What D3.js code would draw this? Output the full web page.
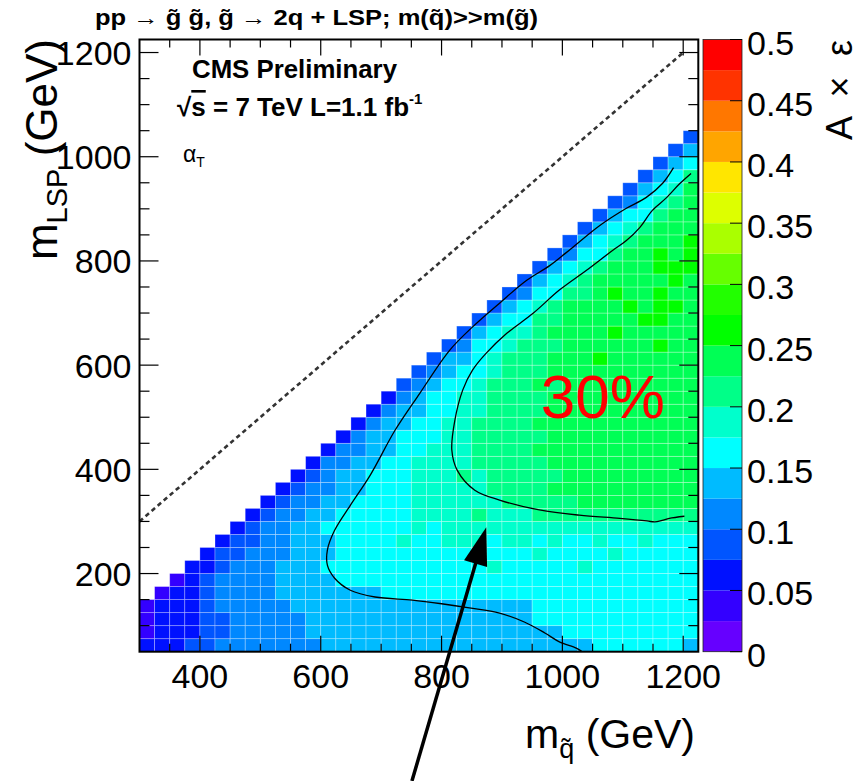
<!DOCTYPE html>
<html><head><meta charset="utf-8">
<script src="https://cdn.jsdelivr.net/npm/d3@7"></script>
<style>
body{margin:0;background:#fff}
svg{display:block}
text{font-family:"Liberation Sans",Arial,Helvetica,sans-serif;fill:#000}
</style>
</head><body>
<svg id="chart" width="862" height="781"></svg>
<script>
// ---------------- DATA ----------------
// Grid: m_gluino from 300 (25 GeV bins), m_LSP from 50 (25 GeV bins)
const gluinoStart = 300, lspStart = 50, binSize = 25;
// Each row j (m_LSP = 50+25j) lists A×ε bins (0..19, 'a'=10, 'b'=11) starting at column max(0, j-3)
// bin k covers [0.025k, 0.025(k+1)]
const effRows = [
  "2223344444445555555555555555556666665",   // j=0
  "1222334444455555555555555555666666666",
  "1222334444455555555555555566666666666",
  "1222344444555555555555555566666666666",
  "122344445555555666666666666666666666",
  "12344445555666666666666666666666666",
  "2234445556666666666676666676666666",
  "233444555666666666766676666766666",
  "23344555666676677767767667667666",
  "2344556666667677777777777777777",       // j=9
  "234455666667777877788888888888",
  "23445566667777778888899999999",
  "2344556667777788889999999999",
  "234556667778788888999999999",
  "24455667777888889999999999",
  "2445566777888899999999999",
  "245566677888889999999999",
  "24556677888899999999999",
  "2455667788889999999999",
  "245667788889999999999",                 // j=19
  "34566788898999999999",
  "3456678889999999999",
  "35567888999a999999",
  "34667888999999a99",
  "3567789999a99999",
  "35668899999aa99",
  "356789999a9aa9",
  "3466889a99a99",
  "3567899999a9",
  "35678999aaa",                           // j=29
  "3466899a9a",
  "35678999a",
  "35678999",
  "3566899",
  "346789",
  "35679",
  "3568",
  "356",
  "35",
  "3"                                      // j=39
];
// ROOT palette, 20 contour levels from 0 to 0.5
const paletteColors = ["#6600ff","#3300ff","#0011ff","#0055ff","#0088ff","#00bbff","#00ffff","#00ffcc","#00ff88","#00ff55",
                       "#00ff00","#22ff00","#66ff00","#aaff00","#ddff00","#ffe600","#ffa500","#ff7700","#ff3300","#ff0000"];
const zMax = 0.5;
const colorbarTicks = [0,0.05,0.1,0.15,0.2,0.25,0.3,0.35,0.4,0.45,0.5];
const xTicks = [400,600,800,1000,1200];
const yTicks = [200,400,600,800,1000,1200];
// contour lines (m_gluino, m_LSP)
const contourOuter = [[1184,979],[1166,949],[1139,922],[1106,901],[1062,868],[1017,826],[979,791],[941,763],[896,719],[851,673],[813,628],[764,546],[723,475],[682,389],[649,331],[623,283],[611,245],[611,216],[623,191],[649,168],[690,155],[752,149],[800,142],[846,134],[896,124],[937,107],[971,86],[995,69],[1023,57],[1033,50]];
const contourInner = [[1213,968],[1194,948],[1172,921],[1149,897],[1128,864],[1106,839],[1083,820],[1040,782],[995,744],[951,699],[908,661],[874,623],[851,590],[835,552],[822,494],[817,437],[826,398],[855,360],[896,341],[962,322],[1028,312],[1095,306],[1140,301],[1153,299],[1165,302],[1177,306],[1202,310]];
const diagonalLine = [[300,300],[1200,1200]];
const arrowFrom = [751,-198], arrowTo = [874,289];
const label30 = {text:"30%", at:[1067,498]};

// ---------------- SCALES ----------------
const svg = d3.select("#chart");
const x = d3.scaleLinear().domain([300,1225]).range([139.5,698.3]);
const y = d3.scaleLinear().domain([50,1225]).range([651.7,39.5]);
const color = d3.scaleQuantize().domain([0,zMax]).range(paletteColors);
const cz = d3.scaleLinear().domain([0,zMax]).range([651.7,39.5]);
const decode = c => parseInt(c,36);

// ---------------- CELLS ----------------
const cells = [];
effRows.forEach((row,j)=>{
  const s = Math.max(0,j-3);
  for(let k=0;k<row.length;k++){
    const i = s+k;
    const v = (decode(row[k])+0.5)*0.025;
    cells.push({mg: gluinoStart+i*binSize, ml: lspStart+j*binSize, v});
  }
});
svg.append("defs").append("clipPath").attr("id","plotclip").append("rect")
  .attr("x",x(300)).attr("y",y(1225)).attr("width",x(1225)-x(300)).attr("height",y(50)-y(1225));

svg.append("g").selectAll("rect").data(cells).join("rect")
  .attr("x",d=>x(d.mg)).attr("y",d=>y(d.ml+binSize))
  .attr("width",d=>x(d.mg+binSize)-x(d.mg)).attr("height",d=>y(d.ml)-y(d.ml+binSize))
  .attr("fill",d=>color(d.v))
  .attr("stroke","rgba(255,255,255,0.35)").attr("stroke-width",0.8);

// diagonal dotted line
svg.append("path").attr("d",d3.line().x(d=>x(d[0])).y(d=>y(d[1]))(diagonalLine))
  .attr("stroke","#333").attr("stroke-width",2.6).attr("stroke-dasharray","4.5,3.5").attr("fill","none");

// contours
const cline = d3.line().x(d=>x(d[0])).y(d=>y(d[1])).curve(d3.curveCatmullRom.alpha(0.5));
const cg = svg.append("g").attr("clip-path","url(#plotclip)");
[contourOuter,contourInner].forEach(c=>{
  cg.append("path").attr("d",cline(c)).attr("fill","none").attr("stroke","#000").attr("stroke-width",1.3);
});

// frame
svg.append("rect").attr("x",x(300)).attr("y",y(1225)).attr("width",x(1225)-x(300)).attr("height",y(50)-y(1225))
  .attr("fill","none").attr("stroke","#000").attr("stroke-width",2);

// ticks
const tg = svg.append("g").attr("stroke","#000").attr("stroke-width",1.2);
d3.range(350,1225,50).forEach(v=>{
  const major = xTicks.includes(v);
  const L = major?16:8;
  tg.append("line").attr("x1",x(v)).attr("x2",x(v)).attr("y1",y(50)).attr("y2",y(50)-L);
  tg.append("line").attr("x1",x(v)).attr("x2",x(v)).attr("y1",y(1225)).attr("y2",y(1225)+L);
});
d3.range(100,1225,50).forEach(v=>{
  const major = yTicks.includes(v);
  const L = major?19:10;
  tg.append("line").attr("x1",x(300)).attr("x2",x(300)+L).attr("y1",y(v)).attr("y2",y(v));
  tg.append("line").attr("x1",x(1225)).attr("x2",x(1225)-L).attr("y1",y(v)).attr("y2",y(v));
});

// tick labels
svg.append("g").selectAll("text").data(xTicks).join("text")
  .attr("x",d=>x(d)).attr("y",688).attr("text-anchor","middle").attr("font-size",34).text(d=>d);
svg.append("g").selectAll("text").data(yTicks).join("text")
  .attr("x",131.5).attr("y",d=>y(d)+12.5).attr("text-anchor","end").attr("font-size",34).text(d=>d);

// colorbar
const cbX0 = 703, cbX1 = 742;
svg.append("g").selectAll("rect").data(paletteColors).join("rect")
  .attr("x",cbX0).attr("width",cbX1-cbX0)
  .attr("y",(d,i)=>cz((i+1)*zMax/paletteColors.length))
  .attr("height",(d,i)=>cz(i*zMax/paletteColors.length)-cz((i+1)*zMax/paletteColors.length))
  .attr("fill",d=>d);
svg.append("rect").attr("x",cbX0).attr("y",cz(zMax)).attr("width",cbX1-cbX0).attr("height",cz(0)-cz(zMax))
  .attr("fill","none").attr("stroke","#222").attr("stroke-width",0.8);
svg.append("g").selectAll("line").data(colorbarTicks).join("line")
  .attr("x1",cbX1).attr("x2",cbX1-12).attr("y1",d=>cz(d)).attr("y2",d=>cz(d))
  .attr("stroke","#000").attr("stroke-width",1);
svg.append("g").selectAll("text").data(colorbarTicks).join("text")
  .attr("x",747).attr("y",d=>cz(d)+15).attr("font-size",34).text(d=>d);

// axis titles
const yt = svg.append("text").attr("transform","translate(57,39) rotate(-90)").attr("text-anchor","end").attr("font-size",44);
yt.append("tspan").text("m");
yt.append("tspan").attr("font-size",29).attr("dy",10).text("LSP");
yt.append("tspan").attr("dy",-10).text(" (GeV)");

const xt = svg.append("text").attr("x",695).attr("y",748).attr("text-anchor","end").attr("font-size",41);
xt.append("tspan").text("m");
xt.append("tspan").attr("font-size",27).attr("dy",10).text("q\u0303");
xt.append("tspan").attr("dy",-10).text(" (GeV)");

svg.append("text").attr("transform","translate(852,40) rotate(-90)").attr("text-anchor","end")
  .attr("font-size",36).attr("textLength",100).attr("lengthAdjust","spacing").text("A \u00d7 \u03b5");

// title
svg.append("text").attr("x",95).attr("y",25).attr("font-size",22).attr("font-weight","bold")
  .attr("textLength",443).attr("lengthAdjust","spacingAndGlyphs")
  .text("pp \u2192 g\u0303 g\u0303, g\u0303 \u2192 2q + LSP; m(q\u0303)>>m(g\u0303)");

// CMS labels
svg.append("text").attr("x",192).attr("y",78).attr("font-size",26).attr("font-weight","bold")
  .attr("textLength",205).attr("lengthAdjust","spacingAndGlyphs").text("CMS Preliminary");
const ls = svg.append("text").attr("x",177).attr("y",116).attr("font-size",26).attr("font-weight","bold");
ls.append("tspan").text("\u221a");
ls.append("tspan").attr("text-decoration","overline").text("s");
ls.append("tspan").text(" = 7 TeV L=1.1 fb");
ls.append("tspan").attr("font-size",15).attr("dy",-12).text("-1");
const al = svg.append("text").attr("x",183).attr("y",162).attr("font-size",23);
al.append("tspan").text("\u03b1");
al.append("tspan").attr("font-size",14).attr("dy",5).text("T");

// 30% label
svg.append("text").attr("x",x(label30.at[0])).attr("y",y(label30.at[1])).attr("text-anchor","middle")
  .attr("font-size",62).style("fill","#ff0000").text(label30.text);

// arrow
const ax0 = x(arrowFrom[0]), ay0 = y(arrowFrom[1]), ax1 = x(arrowTo[0]), ay1 = y(arrowTo[1]);
const len = Math.hypot(ax1-ax0, ay1-ay0), ux=(ax1-ax0)/len, uy=(ay1-ay0)/len;
const headL = 38, headW = 12;
const bx = ax1-ux*headL, by = ay1-uy*headL;
svg.append("line").attr("x1",ax0).attr("y1",ay0).attr("x2",bx+ux*4).attr("y2",by+uy*4)
  .attr("stroke","#000").attr("stroke-width",3.5);
svg.append("polygon").attr("points",[[ax1,ay1],[bx-uy*headW,by+ux*headW],[bx+uy*headW,by-ux*headW]].map(p=>p.join(",")).join(" "))
  .attr("fill","#000");
</script>
</body></html>
